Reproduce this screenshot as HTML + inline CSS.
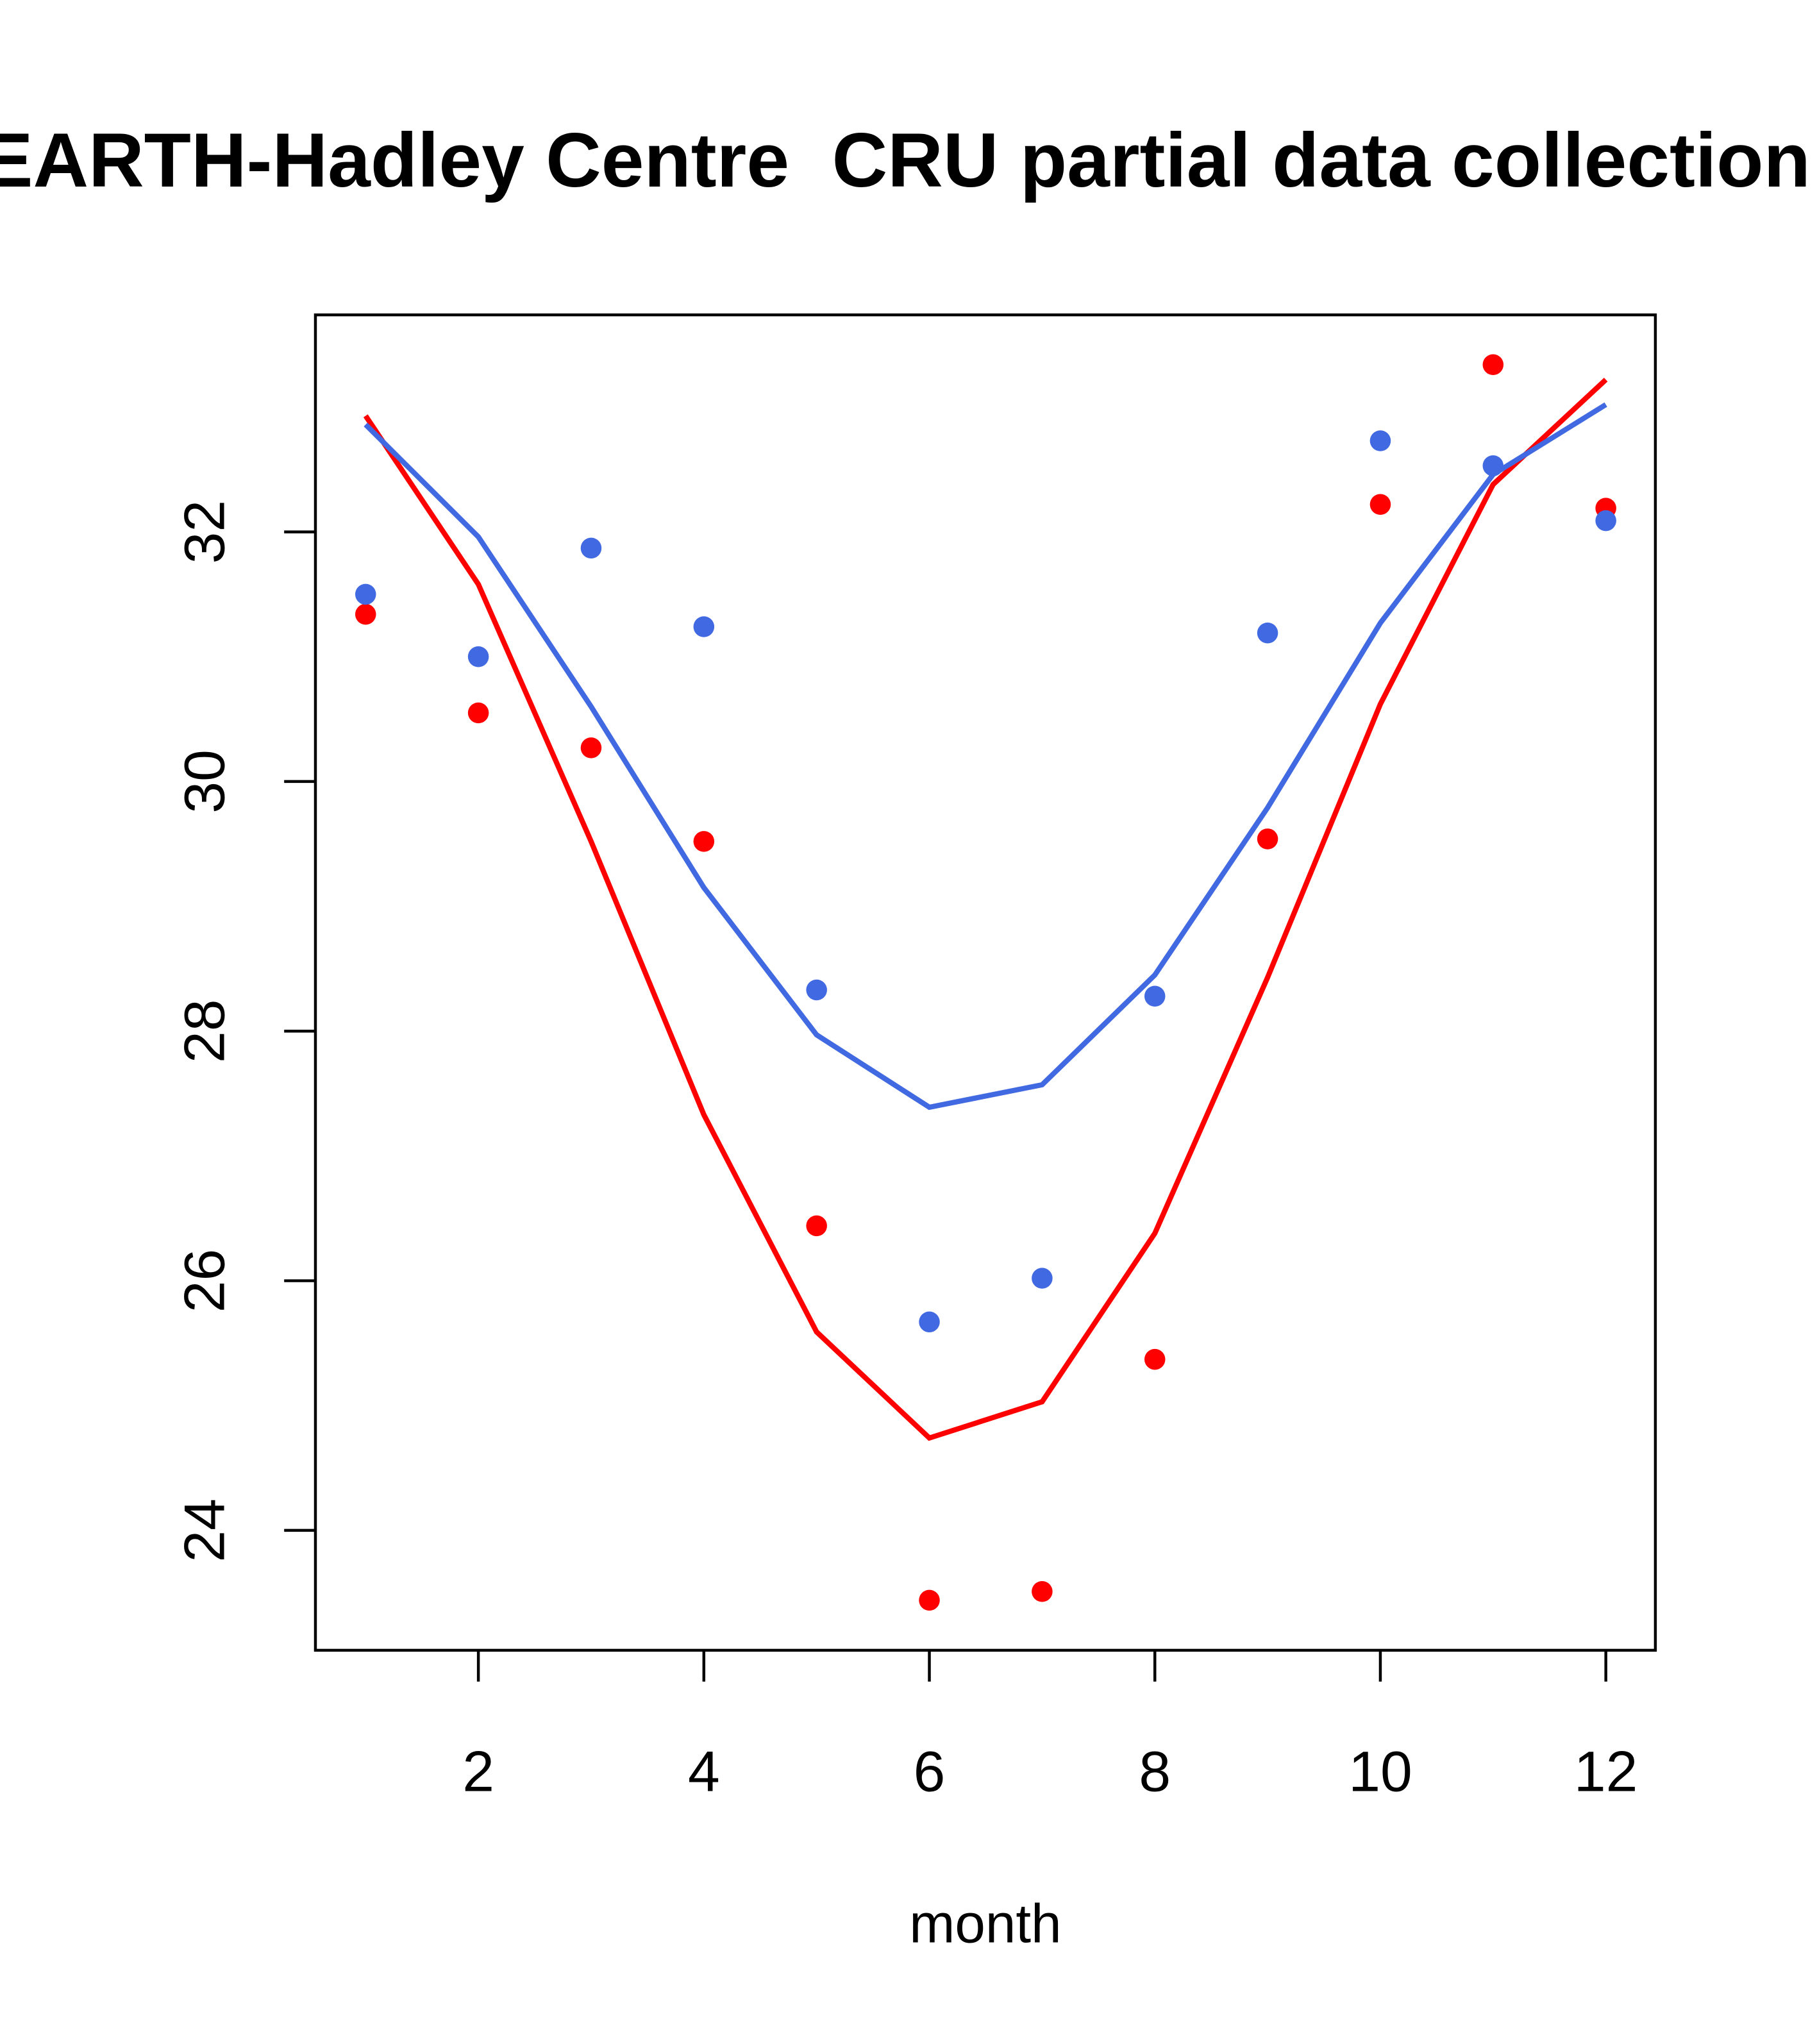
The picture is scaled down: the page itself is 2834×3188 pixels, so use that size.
<!DOCTYPE html>
<html><head><meta charset="utf-8"><style>
html,body{margin:0;padding:0;background:#fff}
svg{display:block}
text{font-family:"Liberation Sans",sans-serif}
</style></head><body>
<svg id="chart" width="2834" height="3188" viewBox="0 0 1394 1568" xmlns="http://www.w3.org/2000/svg">
<rect width="1394" height="1568" fill="#fff"/>
<text x="1389" y="143" text-anchor="end" font-size="59" font-weight="bold" style="white-space:pre" xml:space="preserve">BERKELEY EARTH-Hadley Centre  CRU partial data collection</text>
<rect x="242" y="241.5" width="1028" height="1024.5" fill="none" stroke="#000" stroke-width="2.2"/>
<g id="axes"></g>
<g id="series"></g>
<text x="756" y="1490" text-anchor="middle" font-size="42">month</text>
</svg>
<script>
const months = [1,2,3,4,5,6,7,8,9,10,11,12];
const redPoints = [31.34,30.55,30.27,29.52,26.44,23.44,23.51,25.37,29.54,32.22,33.34,32.19];
const bluePoints = [31.50,31.00,31.87,31.24,28.33,25.67,26.02,28.28,31.19,32.73,32.53,32.09];
const redLine = [32.93,31.58,29.52,27.33,25.59,24.74,25.03,26.38,28.43,30.62,32.38,33.22];
const blueLine = [32.86,31.96,30.60,29.15,27.97,27.39,27.57,28.45,29.79,31.27,32.46,33.02];
const xTicks = [2,4,6,8,10,12];
const yTicks = [24,26,28,30,32];

const NS = "http://www.w3.org/2000/svg";
function X(m){ return 280.5 + (m-1)*86.5; }
function Y(v){ return 408 - (v-32)*95.75; }
function mk(tag, attrs, parent){
  const e = document.createElementNS(NS, tag);
  for (const k in attrs) e.setAttribute(k, attrs[k]);
  parent.appendChild(e); return e;
}
const axes = document.getElementById('axes');
const series = document.getElementById('series');
xTicks.forEach(t=>{
  const l = mk('line',{x1:X(t),x2:X(t),y1:1266,y2:1290,stroke:'#000','stroke-width':2.2},axes);
  
  
  const tx = mk('text',{x:X(t),y:1374,'text-anchor':'middle','font-size':44},axes);
  
  
  tx.textContent = t;
});
yTicks.forEach(t=>{
  const l = mk('line',{x1:218,x2:242,y1:Y(t),y2:Y(t),stroke:'#000','stroke-width':2.2},axes);
  
  
  const tx = mk('text',{x:0,y:0,'text-anchor':'middle','font-size':44,transform:`translate(172,${Y(t)}) rotate(-90)`},axes);
  
  
  tx.textContent = t;
});
function line(vals, color, name){
  const p = mk('polyline',{points:vals.map((v,i)=>X(months[i])+','+Y(v)).join(' '),fill:'none',stroke:color,'stroke-width':4},series);
  
  
}
function pts(vals, color, name){
  vals.forEach((v,i)=>{
    const c = mk('circle',{cx:X(months[i]),cy:Y(v),r:8,fill:color},series);
    
    
  });
}
line(redLine,'#ff0000','red-line');
line(blueLine,'#4169e1','blue-line');
pts(redPoints,'#ff0000','red-point');
pts(bluePoints,'#4169e1','blue-point');
</script>
</body></html>
